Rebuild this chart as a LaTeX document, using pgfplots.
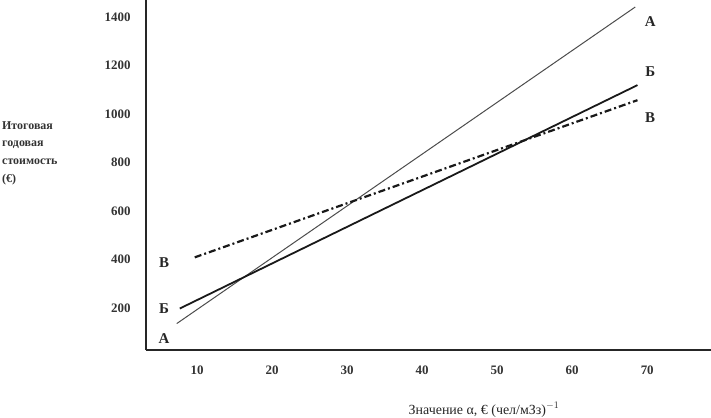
\documentclass[border=0pt]{standalone}
\usepackage{fontspec}
\setmainfont{Liberation Serif}
\usepackage{pgfplots}
\pgfplotsset{compat=1.18}
\usetikzlibrary{calc}

\begin{document}
\begin{tikzpicture}[x=1bp,y=1bp]
\begin{axis}[
    name=ax,
    scale only axis,
    width=565bp, height=350bp,
    xmin=3.2, xmax=78.5,
    ymin=27, ymax=1470,
    axis x line=bottom, axis y line=left,
    axis line style={-, line width=1.8bp, black!85},
    xtick={10,20,...,70},
    ytick={200,400,...,1400},
    major tick length=0pt,
    /pgf/number format/assume math mode=true,
    /pgf/number format/1000 sep={},
    tick label style={font=\fontsize{13}{15}\selectfont\bfseries, text=black!80},
    xticklabel style={yshift=-12bp},
    yticklabel style={xshift=-12bp},
    clip=false,
]
% А
\addplot[black!70, line width=1bp] coordinates {(7.3,136) (68.4,1441)};
% Б
\addplot[black!90, line width=1.8bp] coordinates {(7.7,198) (68.7,1119)};
% В
\addplot[black!90, line width=2.2bp, dash pattern=on 7bp off 3bp on 2bp off 3bp] coordinates {(9.7,409) (68.7,1057)};

\begin{scope}[font=\fontsize{15}{17}\selectfont\bfseries, text=black!85]
\node at (axis cs:5.6,388) {В};
\node at (axis cs:5.6,198) {Б};
\node at (axis cs:5.6,74) {А};
\node at (axis cs:70.4,1380) {А};
\node at (axis cs:70.4,1173) {Б};
\node at (axis cs:70.4,983) {В};
\end{scope}
\end{axis}
\node[anchor=north west, align=left, inner sep=0pt,
      font=\fontsize{12}{18}\selectfont\bfseries, text=black!80]
  at ($(ax.south west)+(-144bp,229bp)$) {Итоговая\\годовая\\стоимость\\(€)};
\node[anchor=base, inner sep=0pt, font=\fontsize{14}{16}\selectfont, text=black!85]
  at ($(ax.south west)+(338bp,-64bp)$) {Значение α, € (чел/мЗз)$^{-1}$};
\pgfresetboundingbox
\path[use as bounding box] ($(ax.south west)+(-146bp,-68bp)$) rectangle (ax.north east);
\end{tikzpicture}
\end{document}
